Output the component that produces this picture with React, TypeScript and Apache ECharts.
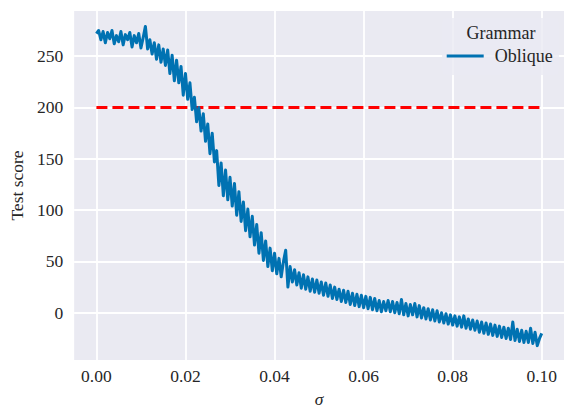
import React, { useEffect, useRef } from "react";
import * as echarts from "echarts";

// sigma grid: evenly spaced from 0 to 0.1 (step 0.0005)
const SIGMA_STEP = 0.0005;
// Test score (Oblique grammar)
const scores: number[] = [
  272, 275, 266, 274, 263, 273, 267, 275, 262, 270,
  264, 274, 261, 271, 266, 273, 259, 270, 263, 272,
  258, 268, 279, 257, 266, 252, 263, 247, 261, 244,
  257, 241, 256, 233, 251, 226, 246, 224, 240, 212,
  233, 208, 224, 198, 210, 186, 200, 177, 194, 167,
  184, 155, 175, 147, 158, 124, 146, 114, 139, 110,
  132, 104, 126, 95, 118, 89, 108, 80, 101, 74,
  94, 66, 86, 58, 78, 51, 70, 45, 63, 41,
  58, 38, 53, 35, 50, 61, 25, 45, 30, 42,
  27, 39, 24, 37, 23, 35, 21, 33, 20, 32,
  19, 30, 17, 29, 16, 27, 14, 25, 13, 23,
  11, 22, 10, 21, 8, 19, 7, 18, 6, 17,
  5, 16, 4, 15, 3, 14, 2, 12, 1, 11,
  2, 12, 1, 11, 0, 10, -1, 13, -2, 9,
  -3, 8, -2, 9, -4, 7, -5, 5, -6, 4,
  -7, 3, -8, 2, -9, 0, -10, -1, -11, -2,
  -12, -3, -13, -4, -14, -3, -15, -6, -16, -7,
  -17, -8, -19, -9, -20, -10, -21, -11, -22, -12,
  -23, -13, -24, -14, -25, -15, -26, -9, -27, -16,
  -28, -17, -29, -18, -29, -15, -30, -19, -32, -25,
  -20,
];
// Red dashed threshold line
const thresholdX: number[] = [0, 0.1];
const thresholdY: number[] = [200, 200];
// Tick labels
const xTicks: number[] = [0, 0.02, 0.04, 0.06, 0.08, 0.1];
const yTicks: number[] = [0, 50, 100, 150, 200, 250];
const seriesName = "Oblique";
const legendTitle = "Grammar";

const FONT = "'Liberation Serif', 'Times New Roman', serif";
const TXT = "#262626";
const FS = 17.5;

export default function App() {
  const ref = useRef<HTMLDivElement>(null);
  useEffect(() => {
    if (!ref.current) return;
    const chart = echarts.init(ref.current, undefined, { renderer: "svg" });
    const lineData = scores.map((v, i) => [i * SIGMA_STEP, v]);
    const thrData = thresholdX.map((x, i) => [x, thresholdY[i]]);
    chart.setOption({
      animation: false,
      grid: {
        left: 73,
        top: 11,
        width: 498,
        height: 349,
        show: true,
        backgroundColor: "#EAEAF2",
        borderWidth: 0,
      },
      xAxis: {
        type: "value",
        min: -0.005,
        max: 0.105,
        axisLine: { show: false },
        axisTick: { show: false },
        splitLine: { show: false },
        axisLabel: {
          customValues: xTicks,
          formatter: (v: number) => v.toFixed(2),
          margin: 7,
          color: TXT,
          fontFamily: FONT,
          fontSize: FS,
        },
        name: "σ",
        nameLocation: "middle",
        nameGap: 30,
        nameTextStyle: { color: TXT, fontFamily: FONT, fontSize: FS, fontStyle: "italic" },
      },
      yAxis: {
        type: "value",
        min: -46,
        max: 294,
        axisLine: { show: false },
        axisTick: { show: false },
        splitLine: { show: false },
        axisLabel: {
          customValues: yTicks,
          formatter: (v: number) => String(v),
          margin: 11,
          color: TXT,
          fontFamily: FONT,
          fontSize: FS,
        },
        name: "Test score",
        nameLocation: "middle",
        nameGap: 46,
        nameRotate: 90,
        nameTextStyle: { color: TXT, fontFamily: FONT, fontSize: FS },
      },
      legend: {
        data: [{ name: seriesName, icon: "rect" }],
        left: 446.7,
        top: 47,
        padding: 0,
        itemWidth: 37,
        itemHeight: 3,
        z: 8,
        textStyle: { color: TXT, fontFamily: FONT, fontSize: 18, padding: [0, 0, 0, 6] },
      },
      graphic: [
        {
          type: "rect",
          z: 7,
          shape: { x: 442, y: 18, width: 117, height: 57, r: 4 },
          style: { fill: "rgba(234,234,242,0.8)" },
          silent: true,
        },
        {
          type: "text",
          z: 8,
          x: 501,
          y: 33,
          style: {
            text: legendTitle,
            fill: TXT,
            font: `18px ${FONT}`,
            align: "center",
            verticalAlign: "middle",
          },
          silent: true,
        },
      ],
      series: [
        {
          name: "gridlines",
          type: "line",
          data: [],
          z: 1,
          silent: true,
          markLine: {
            z: 1,
            silent: true,
            symbol: ["none", "none"],
            label: { show: false },
            lineStyle: { color: "#ffffff", width: 1.8, type: "solid" },
            emphasis: { disabled: true },
            data: [
              ...xTicks.map((v) => ({ xAxis: v })),
              ...yTicks.map((v) => ({ yAxis: v })),
            ],
          },
        },
        {
          name: "threshold",
          type: "line",
          data: thrData,
          z: 3,
          symbol: "none",
          silent: true,
          lineStyle: { color: "#ff0000", width: 3, type: [11, 5] },
        },
        {
          name: seriesName,
          type: "line",
          data: lineData,
          z: 4,
          symbol: "none",
          color: "#0072B2",
          silent: true,
          lineStyle: { color: "#0072B2", width: 3, join: "round" },
        },
      ],
    });
    return () => chart.dispose();
  }, []);
  return (
    <div
      ref={ref}
      style={{ position: "absolute", left: 0, top: 0, width: 564, height: 413 }}
    />
  );
}
